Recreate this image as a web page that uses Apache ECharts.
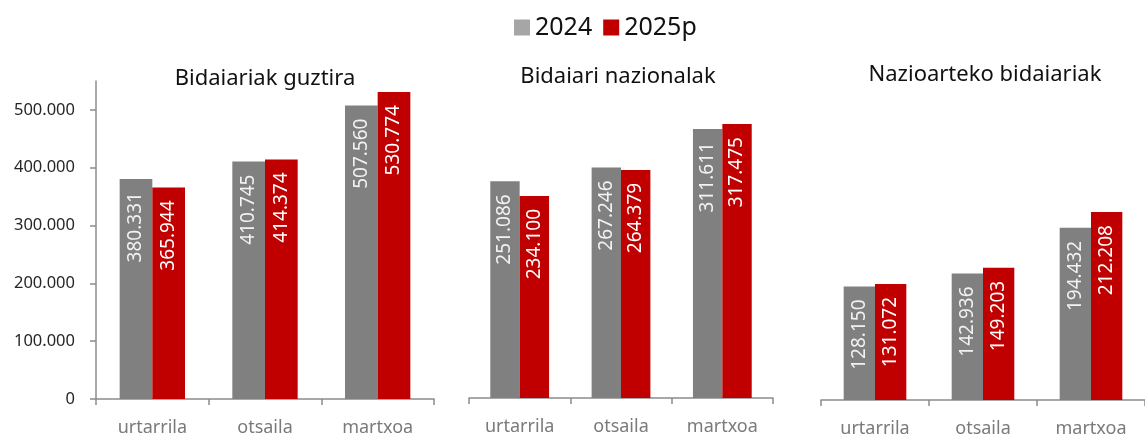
<!DOCTYPE html>
<html>
<head>
<meta charset="utf-8">
<script src="https://cdn.jsdelivr.net/npm/echarts@6/dist/echarts.min.js"></script>
<style>
  html, body { margin: 0; padding: 0; background: #fff; }
  #chart { width: 1145px; height: 438px; }
</style>
</head>
<body>
<div id="chart"></div>
<script>
const months = ["urtarrila", "otsaila", "martxoa"];
const seriesNames = ["2024", "2025p"];
const panelTitles = ["Bidaiariak guztira", "Bidaiari nazionalak", "Nazioarteko bidaiariak"];

const total2024 = [380331, 410745, 507560];
const total2025 = [365944, 414374, 530774];
const national2024 = [251086, 267246, 311611];
const national2025 = [234100, 264379, 317475];
const intl2024 = [128150, 142936, 194432];
const intl2025 = [131072, 149203, 212208];

const GRAY = "#808080";
const RED = "#C00000";
const FONT = "Noto Sans";

// thousands with a dot: 380331 -> 380.331
const fmt = (v) => String(Math.round(v)).replace(/\B(?=(\d{3})+(?!\d))/g, ".");

// one grid per panel, baseline / scale
const grids = [
  { left: 96, top: 81, width: 338, height: 318 },
  { left: 469, top: 96, width: 304, height: 302 },
  { left: 821, top: 90, width: 333, height: 312 },
];
const yMax = [550000, 350000, 350000];
const panelData = [
  [total2024, total2025],
  [national2024, national2025],
  [intl2024, intl2025],
];

const chart = echarts.init(document.getElementById("chart"));

const xAxes = grids.map((g, i) => ({
  type: "category",
  gridIndex: i,
  data: months,
  axisLine: { lineStyle: { color: "#8c8c8c", width: 1.5 } },
  axisTick: { show: true, length: 6, lineStyle: { color: "#8c8c8c", width: 1.5 } },
  axisLabel: { color: "#7a7a7a", fontSize: 18, fontFamily: FONT, margin: 20 },
}));

const yAxes = grids.map((g, i) => ({
  type: "value",
  gridIndex: i,
  min: 0,
  max: yMax[i],
  interval: 100000,
  show: i === 0,
  splitLine: { show: false },
  axisLine: { show: true, lineStyle: { color: "#8c8c8c", width: 1.5 } },
  axisTick: { show: true, length: 6, lineStyle: { color: "#8c8c8c", width: 1.5 } },
  axisLabel: {
    color: "#262626",
    fontSize: 16.5,
    fontFamily: FONT,
    margin: 21,
    showMaxLabel: false,
    formatter: (v) => (v > 500000 ? "" : fmt(v)),
  },
}));

const series = [];
panelData.forEach((pair, i) => {
  pair.forEach((values, k) => {
    series.push({
      name: seriesNames[k],
      type: "bar",
      xAxisIndex: i,
      yAxisIndex: i,
      data: values,
      barWidth: "29%",
      barGap: "0%",
      itemStyle: { color: k === 0 ? GRAY : RED },
      label: {
        show: true,
        position: "insideTop",
        distance: 13,
        rotate: 90,
        align: "right",
        verticalAlign: "middle",
        color: k === 0 ? "#f2f2f2" : "#ffffff",
        fontSize: 19,
        fontFamily: FONT,
        formatter: (p) => fmt(p.value),
      },
    });
  });
});

chart.setOption({
  animation: false,
  title: [
    { text: panelTitles[0], left: 260, top: 63 },
    { text: panelTitles[1], left: 613, top: 61 },
    { text: panelTitles[2], left: 980, top: 59 },
  ].map((t) => ({
    ...t,
    textAlign: "center",
    textStyle: { color: "#111", fontSize: 22, fontWeight: "normal", fontFamily: FONT },
  })),
  legend: {
    top: 10,
    left: 509,
    itemWidth: 16,
    itemHeight: 16,
    itemGap: 11,
    icon: "rect",
    textStyle: { color: "#111", fontSize: 25, fontFamily: FONT },
    data: [
      { name: seriesNames[0], itemStyle: { color: "#a6a6a6" } },
      { name: seriesNames[1], itemStyle: { color: RED } },
    ],
  },
  grid: grids,
  xAxis: xAxes,
  yAxis: yAxes,
  series: series,
});

window.addEventListener("resize", () => chart.resize());
</script>
</body>
</html>
